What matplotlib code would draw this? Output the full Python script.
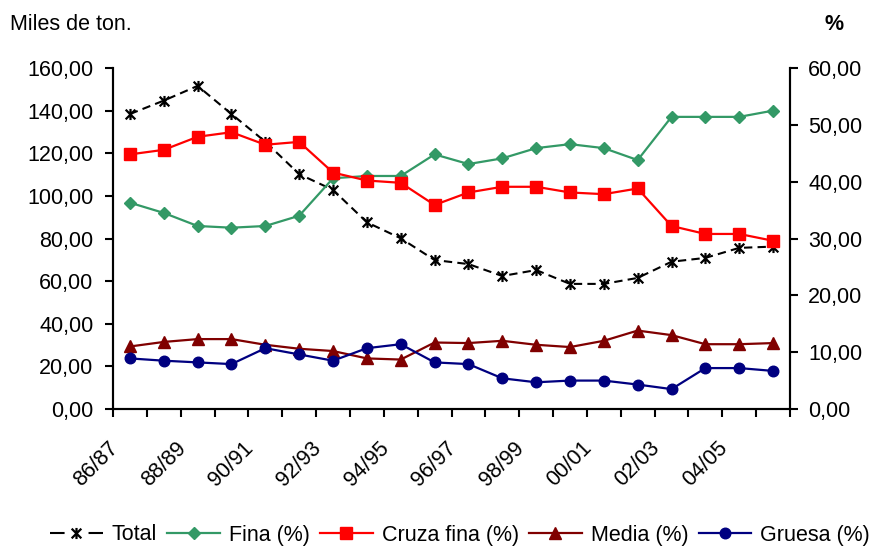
import matplotlib
matplotlib.use("Agg")
import matplotlib.pyplot as plt
import matplotlib.transforms as mtransforms
from matplotlib.path import Path
from matplotlib.lines import Line2D
from matplotlib.ticker import FuncFormatter, MultipleLocator
import numpy as np

plt.rcParams['font.family'] = ['Liberation Sans', 'DejaVu Sans']

# ---- data ----
campaigns = ["86/87", "87/88", "88/89", "89/90", "90/91", "91/92", "92/93", "93/94",
             "94/95", "95/96", "96/97", "97/98", "98/99", "99/00", "00/01", "01/02",
             "02/03", "03/04", "04/05", "05/06"]
total = [138.4, 144.7, 151.6, 138.4, 125.4, 110.2, 102.8, 87.6, 80.1, 69.9,
         68.0, 62.4, 65.2, 58.7, 58.7, 61.5, 69.1, 70.9, 75.6, 76.2]
fina = [36.3, 34.5, 32.2, 31.9, 32.2, 34.0, 40.6, 41.0, 41.0, 44.8,
        43.1, 44.1, 45.9, 46.6, 45.9, 43.8, 51.4, 51.4, 51.4, 52.5]
cruza_fina = [44.8, 45.6, 47.9, 48.7, 46.5, 47.0, 41.6, 40.2, 39.8, 35.9,
              38.1, 39.1, 39.1, 38.1, 37.8, 38.8, 32.2, 30.8, 30.8, 29.6]
media = [11.0, 11.8, 12.3, 12.3, 11.3, 10.6, 10.2, 8.9, 8.7, 11.7,
         11.6, 12.0, 11.3, 10.9, 12.0, 13.8, 13.0, 11.4, 11.4, 11.6]
gruesa = [8.9, 8.5, 8.2, 7.9, 10.7, 9.6, 8.5, 10.7, 11.4, 8.2,
          7.9, 5.4, 4.7, 5.0, 5.0, 4.3, 3.5, 7.2, 7.2, 6.7]
tick_labels = campaigns[::2]

W, H = 873, 548
fig = plt.figure(figsize=(W / 100, H / 100), dpi=100)
ax = fig.add_axes([113 / W, 1 - 409 / H, (790 - 113) / W, (409 - 68) / H])
ax2 = ax.twinx()

x = np.arange(len(campaigns))

star = Path([(-1, -1), (1, 1), (-1, 1), (1, -1), (0, -1.15), (0, 1.15)],
            [Path.MOVETO, Path.LINETO, Path.MOVETO, Path.LINETO, Path.MOVETO, Path.LINETO])

l_total, = ax.plot(x, total, color='black', lw=1.5, dashes=(4, 2.5),
                   marker=star, ms=8, mec='black', mfc='none', mew=1.6, label='Total')

green = '#339966'
red = '#FF0000'
maroon = '#800000'
navy = '#000080'
l_fina, = ax2.plot(x, fina, color=green, lw=1.6, marker='D', ms=6.6, mec=green, mfc=green, label='Fina (%)')
l_cruza, = ax2.plot(x, cruza_fina, color=red, lw=1.6, marker='s', ms=8.2, mec=red, mfc=red, label='Cruza fina (%)')
l_media, = ax2.plot(x, media, color=maroon, lw=1.6, marker='^', ms=8.8, mec=maroon, mfc=maroon, label='Media (%)')
l_gruesa, = ax2.plot(x, gruesa, color=navy, lw=1.6, marker='o', ms=7.6, mec=navy, mfc=navy, label='Gruesa (%)')

fs = 15.5
fmt = FuncFormatter(lambda v, p: f"{v:.2f}".replace('.', ','))

ax.set_xlim(-0.5, len(campaigns) - 0.5)
ax.set_ylim(0, 160)
ax2.set_ylim(0, 60)
ax.yaxis.set_major_locator(MultipleLocator(20))
ax2.yaxis.set_major_locator(MultipleLocator(10))
ax.yaxis.set_major_formatter(fmt)
ax2.yaxis.set_major_formatter(fmt)

for a in (ax, ax2):
    a.spines['top'].set_visible(False)
    for s in ('left', 'right', 'bottom'):
        a.spines[s].set_linewidth(1.5)
        a.spines[s].set_color('black')
    a.set_facecolor('none')

ax.tick_params(axis='y', labelsize=fs, length=6, width=1.5, pad=8, direction='out')
ax2.tick_params(axis='y', labelsize=fs, length=6, width=1.5, pad=7, direction='out')

# x axis: tick marks between categories, labels on every other category
ax.set_xticks(np.arange(-0.5, len(campaigns), 1.0), minor=True)
ax.tick_params(axis='x', which='minor', length=6, width=1.5, direction='out')
ax.set_xticks(x[::2])
ax.set_xticklabels(tick_labels, rotation=45, ha='right', va='center', rotation_mode='anchor')
ax.tick_params(axis='x', which='major', length=0, labelsize=fs, pad=26)
off = mtransforms.ScaledTranslation(-15 / 100, 0, fig.dpi_scale_trans)
for lbl in ax.get_xticklabels():
    lbl.set_transform(lbl.get_transform() + off)

fig.text(10 / W, 1 - 24 / H, "Miles de ton.", fontsize=fs, ha='left', va='center')
fig.text(834 / W, 1 - 24 / H, "%", fontsize=fs, ha='center', va='center', fontweight='bold')

# legend proxy for Total so its handle reads "—x—"
total_proxy = Line2D([], [], color='black', lw=1.5, dashes=(7.0, 11.5),
                     marker=star, ms=8, mec='black', mfc='none', mew=1.6)
handles = [total_proxy, l_fina, l_cruza, l_media, l_gruesa]
labels = [l_total.get_label(), l_fina.get_label(), l_cruza.get_label(),
          l_media.get_label(), l_gruesa.get_label()]
fig.legend(handles, labels, loc='center', ncol=5,
           bbox_to_anchor=(460 / W, 1 - 535 / H), frameon=False, fontsize=fs,
           handlelength=2.45, handletextpad=0.42, columnspacing=0.47, borderaxespad=0)

fig.savefig("out.png", dpi=100)
